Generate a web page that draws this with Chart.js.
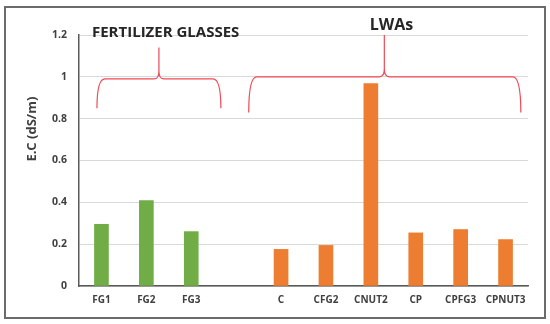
<!DOCTYPE html>
<html lang="en">
<head>
    <meta charset="UTF-8">
    <title>E.C of fertilizer glasses and LWAs</title>
    <script src="https://cdn.jsdelivr.net/npm/chart.js"></script>
    <style>
        body {
            margin: 0;
            background: #fff;
        }
        .frame {
            position: absolute;
            left: 4px;
            top: 6px;
            width: 538px;
            height: 309px;
            border: 2px solid #6b6b6b;
        }
        .chartContainer {
            position: absolute;
            left: 0;
            top: 0;
            width: 550px;
            height: 324px;
        }
    </style>
</head>
<body>
    <div class="frame"></div>
    <div class="chartContainer">
        <canvas id="ecChart" width="550" height="324"></canvas>
    </div>

    <script>
        // data
        const categories = ['FG1', 'FG2', 'FG3', '', 'C', 'CFG2', 'CNUT2', 'CP', 'CPFG3', 'CPNUT3'];
        const ecValues = [0.295, 0.408, 0.26, null, 0.175, 0.194, 0.968, 0.254, 0.27, 0.222];
        const groupOf = ['fg', 'fg', 'fg', null, 'lwa', 'lwa', 'lwa', 'lwa', 'lwa', 'lwa'];
        const yTicks = [0, 0.2, 0.4, 0.6, 0.8, 1, 1.2];
        const yTitle = 'E.C (dS/m)';

        const green = '#70ad47';
        const orange = '#ed7d31';

        // braces over the two groups: x in category index units, y in axis units
        const braces = [
            { label: 'FERTILIZER GLASSES', from: -0.1, to: 2.66, peak: 1.28, bottom: 0.85, line: 0.99, top: 1.14, textX: 1.43, textY: 1.21, font: 'bold 15px "Open Sans"' },
            { label: 'LWAs', from: 3.28, to: 9.34, peak: 6.3, bottom: 0.83, line: 1.0, top: 1.2, textX: 6.46, textY: 1.245, font: 'bold 16px "Open Sans"' }
        ];

        const bracePlugin = {
            id: 'braces',
            afterDraw(chart) {
                const ctx = chart.ctx;
                const xs = chart.scales.x;
                const ys = chart.scales.y;
                const pos = (i) => {
                    const step = xs.getPixelForValue(1) - xs.getPixelForValue(0);
                    return xs.getPixelForValue(0) + i * step;
                };
                ctx.save();
                braces.forEach(b => {
                    const x0 = pos(b.from), x1 = pos(b.to), xp = pos(b.peak);
                    const yb = ys.getPixelForValue(b.bottom);
                    const yh = ys.getPixelForValue(b.line);
                    const yt = ys.getPixelForValue(b.top);
                    const r = 8;
                    ctx.strokeStyle = '#ee4a55';
                    ctx.lineWidth = 1.2;
                    ctx.beginPath();
                    ctx.moveTo(x0, yb);
                    ctx.quadraticCurveTo(x0, yh, x0 + r, yh);
                    ctx.lineTo(xp - 5, yh);
                    ctx.quadraticCurveTo(xp, yh, xp, yh - 8);
                    ctx.lineTo(xp, yt);
                    ctx.moveTo(xp, yh - 8);
                    ctx.quadraticCurveTo(xp, yh, xp + 5, yh);
                    ctx.lineTo(x1 - r, yh);
                    ctx.quadraticCurveTo(x1, yh, x1, yb);
                    ctx.stroke();

                    ctx.fillStyle = '#262626';
                    ctx.font = b.font;
                    ctx.textAlign = 'center';
                    ctx.textBaseline = 'middle';
                    ctx.fillText(b.label, pos(b.textX), ys.getPixelForValue(b.textY));
                });

                // y axis title, sits a bit above the middle like the original
                ctx.translate(ys.left + 20, ys.getPixelForValue(0.75));
                ctx.rotate(-Math.PI / 2);
                ctx.fillStyle = '#404040';
                ctx.font = 'bold 13px "Open Sans"';
                ctx.textAlign = 'center';
                ctx.textBaseline = 'middle';
                ctx.fillText(yTitle, 0, 0);
                ctx.restore();
            }
        };

        const ctx = document.getElementById('ecChart').getContext('2d');
        const chart = new Chart(ctx, {
            type: 'bar',
            data: {
                labels: categories,
                datasets: [{
                    label: 'E.C',
                    data: ecValues,
                    backgroundColor: groupOf.map(g => g === 'fg' ? green : orange),
                    barThickness: 14
                }]
            },
            options: {
                responsive: false,
                animation: false,
                layout: {
                    padding: { left: 12, top: 35, right: 22, bottom: 0 }
                },
                plugins: {
                    legend: { display: false },
                    tooltip: { enabled: false }
                },
                scales: {
                    x: {
                        grid: { display: false, drawTicks: false },
                        border: { display: true, color: '#595959', width: 1.5 },
                        ticks: {
                            padding: 8,
                            maxRotation: 0,
                            minRotation: 0,
                            autoSkip: false,
                            color: '#404040',
                            font: { family: 'Open Sans', size: 10, weight: 'bold' }
                        },
                        afterFit(scale) { scale.height = 38; }
                    },
                    y: {
                        min: 0,
                        max: 1.2,
                        afterBuildTicks(scale) {
                            scale.ticks = yTicks.map(v => ({ value: v }));
                        },
                        grid: { color: '#d9d9d9', drawTicks: false },
                        border: { display: true, color: '#595959', width: 1.5 },
                        ticks: {
                            padding: 12,
                            color: '#404040',
                            font: { family: 'Open Sans', size: 10.5, weight: 'bold' },
                            callback: (v) => String(v)
                        },
                        afterFit(scale) { scale.width = 67; }
                    }
                }
            },
            plugins: [bracePlugin]
        });
    </script>
</body>
</html>
